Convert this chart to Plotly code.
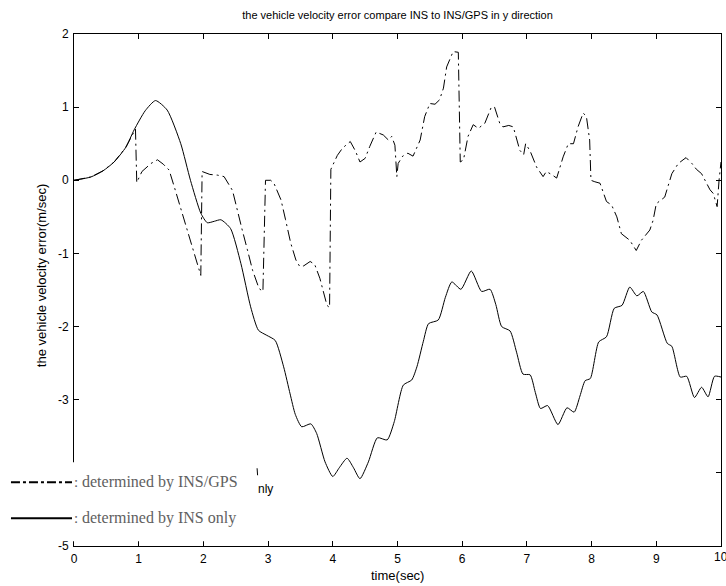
import plotly.graph_objects as go

# ---- data ----
x_ins = [0, 0.26, 0.45, 0.62, 0.8, 0.93, 1.1, 1.26, 1.44, 1.65, 1.8, 1.96, 2.06, 2.17, 2.27, 2.42,
         2.58, 2.73, 2.85, 2.98, 3.11, 3.24, 3.34, 3.42, 3.52, 3.66, 3.75, 3.88, 4.0, 4.1, 4.22,
         4.32, 4.42, 4.55, 4.69, 4.84, 4.95, 5.09, 5.22, 5.30, 5.40, 5.48, 5.63, 5.74, 5.84, 5.98,
         6.14, 6.30, 6.43, 6.52, 6.61, 6.74, 6.84, 6.94, 7.05, 7.13, 7.21, 7.32, 7.48, 7.62, 7.73,
         7.82, 7.90, 7.98, 8.11, 8.23, 8.35, 8.47, 8.59, 8.70, 8.80, 8.93, 9.01, 9.17, 9.24, 9.37,
         9.47, 9.59, 9.70, 9.80, 9.90, 10.0]
y_ins = [0, 0.045, 0.13, 0.25, 0.45, 0.69, 0.95, 1.09, 0.96, 0.50, 0.0, -0.45, -0.58, -0.56, -0.54,
         -0.66, -1.14, -1.73, -2.05, -2.12, -2.19, -2.55, -2.92, -3.2, -3.37, -3.33, -3.46, -3.85,
         -4.05, -3.93, -3.80, -3.93, -4.08, -3.85, -3.52, -3.55, -3.3, -2.80, -2.73, -2.55, -2.2,
         -1.96, -1.91, -1.6, -1.39, -1.49, -1.24, -1.52, -1.49, -1.7, -2.00, -2.06, -2.35, -2.65,
         -2.66, -2.9, -3.12, -3.08, -3.34, -3.11, -3.17, -2.95, -2.74, -2.71, -2.21, -2.14, -1.75,
         -1.71, -1.46, -1.58, -1.52, -1.80, -1.84, -2.23, -2.27, -2.69, -2.68, -2.97, -2.83, -2.96,
         -2.68, -2.69]

x_gps = [0, 0.26, 0.45, 0.62, 0.8, 0.95, 0.97, 1.05, 1.19, 1.29, 1.38, 1.47, 1.55, 1.67, 1.83, 1.93,
         1.96, 1.98, 2.1, 2.22, 2.32, 2.45, 2.52, 2.60, 2.68, 2.76, 2.86, 2.92, 2.96, 3.04, 3.09,
         3.2, 3.27, 3.35, 3.43, 3.49, 3.55, 3.65, 3.72, 3.80, 3.91, 3.95, 3.97, 4.07, 4.15, 4.27,
         4.35, 4.42, 4.5, 4.57, 4.67, 4.78, 4.86, 4.91, 4.96, 4.99, 5.01, 5.08, 5.16, 5.24, 5.35,
         5.42, 5.50, 5.58, 5.65, 5.71, 5.76, 5.86, 5.94, 5.97, 6.02, 6.09, 6.17, 6.25, 6.35, 6.45,
         6.5, 6.58, 6.63, 6.72, 6.79, 6.89, 6.95, 6.98, 7.05, 7.15, 7.25, 7.30, 7.38, 7.46, 7.56,
         7.64, 7.72, 7.79, 7.87, 7.92, 7.97, 7.99, 8.05, 8.13, 8.23, 8.31, 8.39, 8.46, 8.59, 8.69,
         8.77, 8.90, 8.95, 9.00, 9.13, 9.24, 9.34, 9.46, 9.55, 9.62, 9.70, 9.83, 9.88, 9.94, 9.97,
         10.0]
y_gps = [0, 0.045, 0.13, 0.25, 0.45, 0.70, -0.03, 0.12, 0.23, 0.28, 0.22, 0.14, -0.09, -0.45, -0.91,
         -1.23, -1.30, 0.12, 0.08, 0.07, 0.05, -0.14, -0.41, -0.68, -0.95, -1.23, -1.48, -1.52, 0.0,
         0.0, -0.04, -0.27, -0.54, -0.86, -1.09, -1.18, -1.17, -1.11, -1.15, -1.34, -1.71, -1.74,
         0.15, 0.34, 0.44, 0.53, 0.40, 0.25, 0.30, 0.46, 0.66, 0.62, 0.55, 0.60, 0.48, 0.05, 0.23,
         0.33, 0.37, 0.33, 0.55, 0.87, 1.05, 1.04, 1.10, 1.26, 1.55, 1.76, 1.75, 0.25, 0.28, 0.60,
         0.76, 0.71, 0.78, 1.00, 1.00, 0.78, 0.73, 0.75, 0.73, 0.41, 0.35, 0.50, 0.40, 0.18, 0.05,
         0.12, 0.08, 0.03, 0.32, 0.50, 0.50, 0.73, 0.92, 0.87, 0.55, 0.0, -0.02, -0.04, -0.29, -0.34,
         -0.50, -0.73, -0.82, -0.96, -0.82, -0.68, -0.55, -0.32, -0.23, 0.09, 0.23, 0.31, 0.23, 0.15,
         0.09, -0.13, -0.18, -0.36, 0.0, 0.25]

x_ticks = [0, 1, 2, 3, 4, 5, 6, 7, 8, 9, 10]
y_ticks = [2, 1, 0, -1, -2, -3, -4, -5]

title_text = "the vehicle velocity error compare INS to INS/GPS in y direction"
x_title = "time(sec)"
y_title = "the vehicle velocity error(m/sec)"
legend_labels = ["determined by INS/GPS", "determined by INS only"]

# ---- geometry helpers (plot area in pixels) ----
W, H = 726, 586
L, R, T, B = 74, 720.7, 34, 545.7


def px(xpix):
    return (xpix - L) / (R - L)


def py(ypix):
    return (B - ypix) / (B - T)


fig = go.Figure()
fig.add_trace(go.Scatter(x=x_gps, y=y_gps, mode="lines",
                         line=dict(color="black", width=1, dash="11px,4px,2px,4px"),
                         showlegend=False, hoverinfo="skip"))
fig.add_trace(go.Scatter(x=x_ins, y=y_ins, mode="lines",
                         line=dict(color="black", width=1, shape="spline", smoothing=0.6),
                         showlegend=False, hoverinfo="skip"))

sans = "Liberation Sans, Arial, sans-serif"
tick_font = dict(family=sans, size=12, color="black")
label_font = dict(family=sans, size=13, color="black")

fig.update_layout(
    width=W, height=H,
    margin=dict(l=L, r=W - R, t=T, b=H - B, pad=0),
    paper_bgcolor="white", plot_bgcolor="white",
    showlegend=False,
    title=dict(text=title_text, x=px((L + R) / 2), xref="paper", xanchor="center",
               y=1 - 15 / H, yref="container", yanchor="middle",
               font=dict(family=sans, size=11, color="black")),
    xaxis=dict(range=[0, 10], tickvals=x_ticks[:-1], ticktext=[str(v) for v in x_ticks[:-1]],
               ticks="inside", ticklen=5, tickcolor="black", tickwidth=1,
               showline=True, linecolor="black", linewidth=1, mirror="ticks",
               showgrid=False, zeroline=False, tickfont=tick_font, ticklabelstandoff=2),
    yaxis=dict(range=[-5, 2], tickvals=y_ticks, ticktext=[str(v) for v in y_ticks],
               ticks="inside", ticklen=5, tickcolor="black", tickwidth=1,
               showline=True, linecolor="black", linewidth=1, mirror="ticks",
               showgrid=False, zeroline=False, tickfont=tick_font, ticklabelstandoff=2),
)

# last x tick label (partly cut by the page edge in the original)
fig.add_annotation(text=str(x_ticks[-1]), xref="paper", yref="paper", x=1.0, y=py(557),
                   xanchor="center", yanchor="middle", showarrow=False, font=tick_font)

# axis titles
fig.add_annotation(text=x_title, xref="paper", yref="paper", x=px(397), y=py(575),
                   xanchor="center", yanchor="middle", showarrow=False, font=label_font)
fig.add_annotation(text=y_title, xref="paper", yref="paper", x=px(41), y=py(275),
                   xanchor="center", yanchor="middle", showarrow=False, textangle=-90,
                   font=label_font)

# remnant of the original legend behind the pasted one
fig.add_annotation(text="nly", xref="paper", yref="paper", x=px(256), y=py(489),
                   xanchor="left", yanchor="middle", showarrow=False,
                   font=dict(family=sans, size=12, color="black"))
fig.add_shape(type="line", xref="paper", yref="paper", x0=px(257), x1=px(257.5),
              y0=py(468), y1=py(475), line=dict(color="black", width=1), layer="above")

# pasted legend box (white, no border)
fig.add_shape(type="rect", xref="paper", yref="paper", x0=px(0), x1=px(255),
              y0=py(541), y1=py(462), fillcolor="white", line=dict(width=0), layer="above")

rows = [(482, "9px,3px,3px,3px"), (518, "solid")]
for (ypix, dash), lab in zip(rows, legend_labels):
    fig.add_shape(type="line", xref="paper", yref="paper", x0=px(11), x1=px(72),
                  y0=py(ypix), y1=py(ypix), line=dict(color="black", width=2, dash=dash),
                  layer="above")
    fig.add_annotation(text=":", xref="paper", yref="paper", x=px(72), y=py(ypix),
                       xanchor="left", yanchor="middle", showarrow=False,
                       font=dict(family="Liberation Serif, serif", size=15, color="#606060"))
    fig.add_annotation(text=lab, xref="paper", yref="paper", x=px(80), y=py(ypix),
                       xanchor="left", yanchor="middle", showarrow=False,
                       font=dict(family="Liberation Serif, serif", size=16, color="#606060"))

fig.write_html("out.html")
